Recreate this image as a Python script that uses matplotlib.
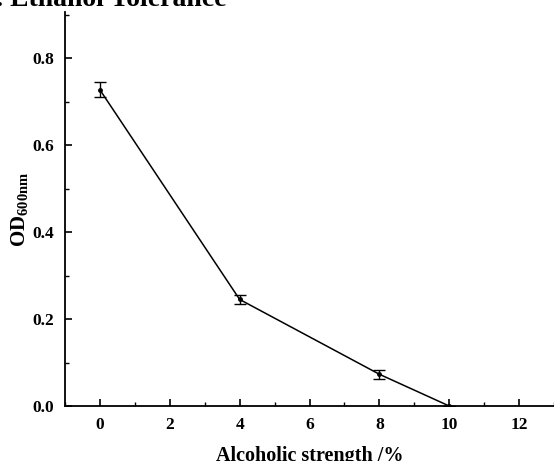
import matplotlib
matplotlib.use("Agg")
import matplotlib.pyplot as plt
from matplotlib.ticker import MultipleLocator

alcohol = [0, 4, 8, 10]
od600 = [0.727, 0.245, 0.073, 0.0]
od_err = [0.017, 0.010, 0.010, 0.0]

plt.rcParams['font.family'] = ['Liberation Serif', 'DejaVu Serif']
plt.rcParams['font.weight'] = 'bold'
plt.rcParams['mathtext.fontset'] = 'custom'
plt.rcParams['mathtext.rm'] = 'Liberation Serif:bold'
plt.rcParams['mathtext.bf'] = 'Liberation Serif:bold'

fig = plt.figure(figsize=(5.54, 4.61), dpi=100)
ax = fig.add_axes([65/554, 1-406/461, (554-65)/554, (406-12)/461])

ax.errorbar(alcohol, od600, yerr=od_err, color='black', lw=1.1, marker='o', ms=2.5,
            capsize=4, elinewidth=1.0, capthick=1.0, ecolor='black')

ax.set_xlim(-1, 13)
ax.set_ylim(0, 0.906)
ax.xaxis.set_major_locator(MultipleLocator(2))
ax.xaxis.set_minor_locator(MultipleLocator(1))
ax.yaxis.set_major_locator(MultipleLocator(0.2))
ax.yaxis.set_minor_locator(MultipleLocator(0.1))
ax.spines['top'].set_visible(False)
ax.spines['right'].set_visible(False)
for s in ['left', 'bottom']:
    ax.spines[s].set_linewidth(1.3)
ax.tick_params(which='major', direction='in', length=5, width=1.2, labelsize=12.5)
ax.tick_params(axis='y', which='major', pad=8)
ax.tick_params(axis='x', which='major', pad=8)
ax.tick_params(which='minor', direction='in', length=3, width=1.0)
for lab in ax.get_xticklabels() + ax.get_yticklabels():
    lab.set_fontweight('bold')

ax.set_xlabel('Alcoholic strength /%', fontsize=14.5, fontweight='bold', labelpad=9)
ax.set_ylabel(r'OD$_{\mathregular{600nm}}$', fontsize=15, fontweight='bold', labelpad=1)

fig.text(227/554, 1-6/461, '(d). Ethanol Tolerance', ha='right', va='baseline',
         fontsize=20, fontweight='bold')

fig.savefig('out.png', dpi=100)
